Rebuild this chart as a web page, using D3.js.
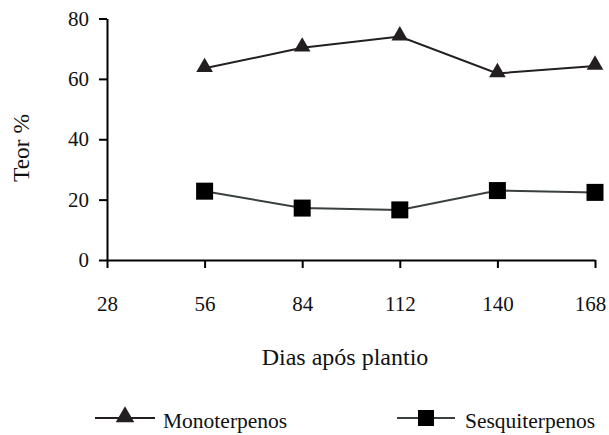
<!DOCTYPE html>
<html><head><meta charset="utf-8">
<script src="https://cdn.jsdelivr.net/npm/d3@7"></script>
<style>body{margin:0;background:#fff}</style>
</head><body><svg id="c" width="609" height="435"></svg>
<script>
const days = [28, 56, 84, 112, 140, 168];
const sampleDays = [56, 84, 112, 140, 168];
const monoterpenos = [63.5, 70.3, 74.0, 61.8, 64.3];
const sesquiterpenos = [22.8, 17.2, 16.6, 23.0, 22.4];
const yTicks = [0, 20, 40, 60, 80];
const seriesNames = ["Monoterpenos", "Sesquiterpenos"];

const FF = "'Liberation Serif', 'Times New Roman', Times, serif";
const svg = d3.select("#c").attr("font-family", FF);
const x = d3.scaleLinear().domain([28, 168]).range([107, 595]);
const y = d3.scaleLinear().domain([0, 80]).range([260, 18.5]);
const FS = 21;

function styleAxis(g) {
  g.attr("font-family", FF).attr("font-size", FS);
  g.select(".domain").attr("stroke", "#000").attr("stroke-width", 2);
  g.selectAll(".tick line").attr("stroke", "#000").attr("stroke-width", 2);
  g.selectAll(".tick text").attr("fill", "#111");
}

const ya = svg.append("g").attr("transform", "translate(107,0)")
  .call(d3.axisLeft(y).tickValues(yTicks).tickSize(8).tickPadding(10).tickSizeOuter(0));
styleAxis(ya);

const xa = svg.append("g").attr("transform", "translate(0,260)")
  .call(d3.axisBottom(x).tickValues(days).tickSize(8).tickPadding(28).tickSizeOuter(0));
styleAxis(xa);
// keep the last label inside the picture, as in the reference
xa.selectAll(".tick text").filter(d => d === days[days.length - 1]).attr("dx", -5);

svg.append("text").attr("x", 345).attr("y", 365).attr("text-anchor", "middle")
  .attr("font-size", 24).attr("fill", "#111").text("Dias após plantio");
svg.append("text").attr("transform", "translate(29,148) rotate(-90)").attr("text-anchor", "middle")
  .attr("font-size", 23.5).attr("fill", "#111").text("Teor %");

const line = d3.line().x(d => x(d[0])).y(d => y(d[1]));
const monoPts = sampleDays.map((d, i) => [d, monoterpenos[i]]);
const sesqPts = sampleDays.map((d, i) => [d, sesquiterpenos[i]]);

svg.append("path").datum(monoPts).attr("d", line).attr("fill", "none").attr("stroke", "#231f20").attr("stroke-width", 2);
svg.append("path").datum(sesqPts).attr("d", line).attr("fill", "none").attr("stroke", "#3a3f3f").attr("stroke-width", 2);

const tri = d3.symbol().type(d3.symbolTriangle).size(120);
svg.selectAll(".tri").data(monoPts).join("path").attr("class", "tri")
  .attr("d", tri).attr("transform", d => `translate(${x(d[0])},${y(d[1]) - 1})`).attr("fill", "#231f20");
svg.selectAll(".sq").data(sesqPts).join("rect").attr("class", "sq")
  .attr("x", d => x(d[0]) - 8.5).attr("y", d => y(d[1]) - 8.5).attr("width", 17).attr("height", 17).attr("fill", "#000");

const lg = [
  {name: seriesNames[0], x0: 95, x1: 155, stroke: "#231f20", type: "tri", tx: 163},
  {name: seriesNames[1], x0: 397, x1: 455, stroke: "#3a3f3f", type: "sq", tx: 465}
];
const ly = 418;
lg.forEach(l => {
  svg.append("line").attr("x1", l.x0).attr("x2", l.x1).attr("y1", ly).attr("y2", ly).attr("stroke", l.stroke).attr("stroke-width", 2);
  const cx = (l.x0 + l.x1) / 2;
  if (l.type === "tri") {
    svg.append("path").attr("d", d3.symbol().type(d3.symbolTriangle).size(150)()).attr("transform", `translate(${cx},${ly - 1})`).attr("fill", "#231f20");
  } else {
    svg.append("rect").attr("x", cx - 8).attr("y", ly - 8).attr("width", 16).attr("height", 16).attr("fill", "#000");
  }
  svg.append("text").attr("x", l.tx).attr("y", 428).attr("font-size", 21.5).attr("fill", "#111").text(l.name);
});
</script></body></html>
